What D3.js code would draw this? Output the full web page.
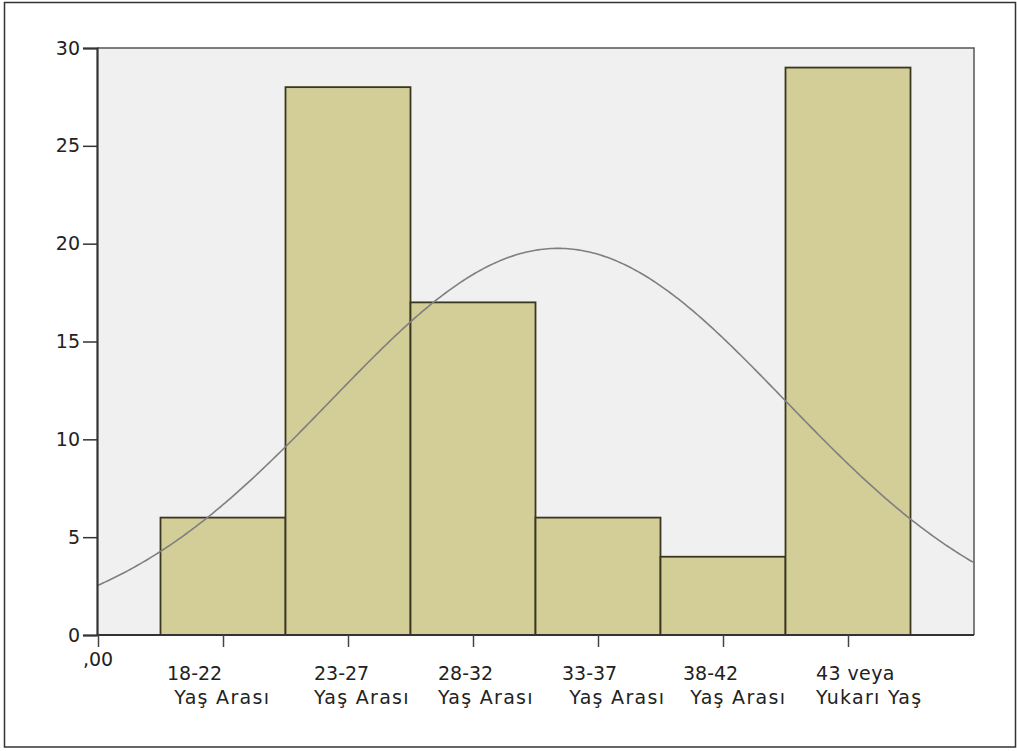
<!DOCTYPE html>
<html>
<head>
<meta charset="utf-8">
<script src="https://cdn.jsdelivr.net/npm/d3@7"></script>
<style>
  html, body { margin: 0; padding: 0; background: #fff; }
  svg { display: block; }
  text { font-family: "DejaVu Sans", Verdana, sans-serif; fill: #222; }
</style>
</head>
<body>
<svg id="chart" width="1017" height="751"></svg>
<script>
// Age-group histogram with a fitted normal curve
const categories = [
  ["18-22", "\u00a0Yaş Arası"],
  ["23-27", "Yaş Arası"],
  ["28-32", "Yaş Arası"],
  ["33-37", "\u00a0Yaş Arası"],
  ["38-42", "\u00a0Yaş Arası"],
  ["43 veya", "Yukarı Yaş"]
];
const counts = [6, 28, 17, 6, 4, 29];
const yTicks = [0, 5, 10, 15, 20, 25, 30];
const xOriginLabel = ",00";

// Normal curve parameters (mean, std. deviation, N)
const curveMean = 3.68;
const curveSD = 1.817;
const curveN = 90;

// label start offsets relative to each tick (px)
const labelShift = [-56, -34, -35, -36, -40, -32];

const svg = d3.select("#chart");
const plot = { left: 97, right: 974, top: 48, bottom: 635 };

// outer frame
svg.append("rect")
  .attr("x", 4.5).attr("y", 2.5)
  .attr("width", 1011).attr("height", 744.5)
  .attr("fill", "none").attr("stroke", "#333").attr("stroke-width", 1.5);

const x = d3.scaleLinear().domain([0, 7]).range([plot.left + 1, plot.right - 1]);
const y = d3.scaleLinear().domain([0, 30]).range([plot.bottom, plot.top]);

// plot background
svg.append("rect")
  .attr("x", plot.left).attr("y", plot.top)
  .attr("width", plot.right - plot.left).attr("height", plot.bottom - plot.top)
  .attr("fill", "#f0f0f0");

// bars
svg.append("g").selectAll("rect")
  .data(counts)
  .join("rect")
  .attr("x", (d, i) => x(i + 0.5))
  .attr("y", d => y(d))
  .attr("width", (d, i) => x(i + 1.5) - x(i + 0.5))
  .attr("height", d => y(0) - y(d))
  .attr("fill", "#d3cd97")
  .attr("stroke", "#3a3720")
  .attr("stroke-width", 1.8);

// normal curve
const binWidth = 1;
const density = v => curveN * binWidth / (curveSD * Math.sqrt(2 * Math.PI)) *
  Math.exp(-((v - curveMean) ** 2) / (2 * curveSD * curveSD));
const curvePts = d3.range(0, 7.0001, 0.02).map(v => [v, density(v)]);
svg.append("path")
  .datum(curvePts)
  .attr("d", d3.line().x(d => x(d[0])).y(d => y(d[1])).curve(d3.curveLinear))
  .attr("fill", "none")
  .attr("stroke", "#7f7f7f")
  .attr("stroke-width", 1.6);

// plot frame top and right
svg.append("path")
  .attr("d", `M${plot.left},${plot.top}H${plot.right}V${plot.bottom}`)
  .attr("fill", "none").attr("stroke", "#555").attr("stroke-width", 1.5);

// y axis
const yAxis = d3.axisLeft(y).tickValues(yTicks).tickSize(14).tickPadding(3)
  .tickFormat(d3.format("d"));
const gy = svg.append("g").attr("transform", `translate(${plot.left},0)`).call(yAxis);
gy.select(".domain").attr("stroke", "#333").attr("stroke-width", 2.2);
gy.selectAll(".tick line").attr("stroke", "#333").attr("stroke-width", 1.5);
gy.selectAll(".tick text").attr("font-size", 19).attr("fill", "#222")
  .attr("font-family", "DejaVu Sans, sans-serif");

// x axis
const xAxis = d3.axisBottom(x).tickValues([0, 1, 2, 3, 4, 5, 6]).tickSize(12).tickFormat("");
const gx = svg.append("g").attr("transform", `translate(0,${plot.bottom})`).call(xAxis);
gx.select(".domain").attr("stroke", "#333").attr("stroke-width", 2.2)
  .attr("d", `M${plot.left},0H${plot.right}`);
gx.selectAll(".tick line").attr("stroke", "#444").attr("stroke-width", 1.5);

// origin label
svg.append("text")
  .attr("x", x(0)).attr("y", plot.bottom + 31)
  .attr("text-anchor", "middle")
  .attr("font-size", 19)
  .text(xOriginLabel);

// category labels
const labels = svg.append("g").selectAll("text")
  .data(categories)
  .join("text")
  .attr("font-size", 19)
  .attr("x", (d, i) => x(i + 1) + labelShift[i])
  .attr("y", plot.bottom + 45);
labels.each(function (d, i) {
  const t = d3.select(this);
  const x0 = x(i + 1) + labelShift[i];
  t.append("tspan").attr("x", x0).attr("dy", 0)
    .attr("letter-spacing", d[0].length > 5 ? 0.4 : 0).text(d[0]);
  t.append("tspan").attr("x", x0).attr("dy", 24)
    .attr("letter-spacing", 1.3).text(d[1]);
});
</script>
</body>
</html>
